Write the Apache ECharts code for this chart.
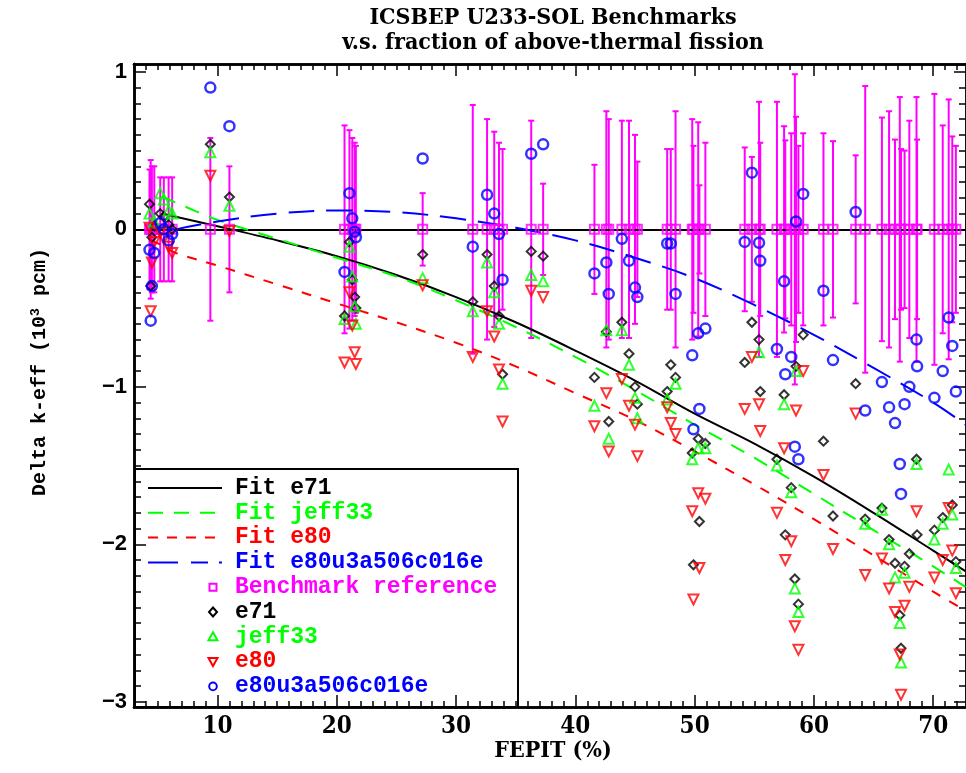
<!DOCTYPE html>
<html><head><meta charset="utf-8">
<script src="https://cdn.jsdelivr.net/npm/echarts@6/dist/echarts.min.js"></script>
<style>html,body{margin:0;padding:0;background:#fff}#c{width:966px;height:773px}</style>
</head><body><div id="c"></div>
<script>
// ---------------- DATA ----------------
// benchmark FEPIT (%) positions
const fepit = [4.3,4.4,4.5,4.7,5.2,5.5,5.9,6.2,9.4,11.0,
  20.65,21.06,21.3,21.5,21.6,27.2,31.4,32.6,33.2,33.6,33.9,36.3,37.3,
  41.6,42.6,42.8,43.9,44.5,45.0,45.2,47.7,48.0,48.4,49.8,49.9,50.3,50.4,50.9,
  54.2,54.8,55.4,55.5,56.9,57.5,57.6,58.1,58.4,58.5,58.7,59.1,60.8,61.6,63.5,
  64.3,65.7,66.3,66.8,67.2,67.3,67.6,68.0,68.6,68.65,70.1,70.8,71.3,71.6,71.9];
// benchmark uncertainty (10^3 pcm), reference Delta = 0
const refUnc = [0.38,0.44,0.40,0.40,0.33,0.33,0.33,0.33,0.58,0.40,
  0.66,0.63,0.58,0.55,0.53,0.23,0.79,0.70,0.62,0.55,0.51,0.69,0.29,
  0.41,0.75,0.70,0.69,0.69,0.60,0.43,0.51,0.51,0.75,0.70,0.53,0.68,0.28,0.55,
  0.52,0.46,0.81,0.55,0.81,0.655,0.565,0.61,0.985,0.715,0.53,0.61,0.61,0.56,0.47,
  0.91,0.71,0.75,0.57,0.84,0.51,0.50,0.69,0.84,0.57,0.86,0.66,0.825,0.59,0.53];
const e71 = [0.16,-0.36,-0.05,0.02,0.10,0.08,0.03,0.00,0.54,0.205,
  -0.55,-0.08,-0.32,-0.43,-0.50,-0.16,-0.46,-0.16,-0.36,-0.55,-0.92,-0.14,-0.17,
  -0.94,-0.65,-1.22,-0.59,-0.79,-1.00,-1.11,-1.03,-0.86,-0.94,-1.42,-2.13,-1.33,-1.855,-1.36,
  -0.845,-0.59,-0.70,-1.03,-1.46,-1.05,-1.94,-1.64,-2.22,-0.87,-2.38,-0.67,-1.345,-1.82,-0.98,
  -1.84,-1.77,-1.97,-2.12,-2.45,-2.66,-2.14,-2.06,-1.46,-1.94,-1.91,-1.83,null,-1.75,-2.11];
const jeff33 = [0.10,null,null,0.05,0.23,0.19,0.12,0.10,0.49,0.15,
  -0.57,-0.11,-0.30,-0.49,-0.60,-0.31,-0.52,-0.21,-0.40,-0.60,-0.98,-0.29,-0.33,
  -1.12,-0.64,-1.33,-0.64,-0.86,-1.07,-1.20,-1.08,null,-0.98,-1.46,null,-1.39,null,-1.39,
  null,null,-0.78,null,-1.50,-1.11,null,-1.67,-2.28,-0.90,-2.43,null,null,null,null,
  -1.87,-1.78,-2.00,-2.21,-2.50,-2.75,-2.18,null,-1.49,null,-1.97,-1.87,-1.525,-1.81,-2.15];
const e80 = [0.01,-0.52,-0.21,-0.08,-0.02,-0.06,-0.11,-0.15,0.34,-0.01,
  -0.845,-0.40,-0.61,-0.78,-0.855,-0.355,-0.81,-0.52,-0.68,-0.89,-1.22,-0.39,-0.43,
  -1.25,-1.04,-1.41,-0.95,-1.12,-1.24,-1.44,-1.13,-1.23,-1.30,-1.79,-2.35,-1.675,-2.15,-1.71,
  -1.14,-0.81,-1.11,-1.28,-1.80,-1.39,-2.10,-1.98,-2.52,-1.15,-2.67,-0.90,-1.56,-2.03,-1.17,
  -2.195,-2.09,-2.28,-2.43,-2.70,-2.955,-2.39,-2.27,-1.79,null,-2.21,-2.10,-1.77,-2.04,-2.31];
const e80u3 = [-0.13,-0.58,-0.36,-0.15,0.04,0.00,-0.07,-0.03,0.90,0.655,
  -0.27,0.23,0.07,-0.015,-0.05,0.45,-0.11,0.22,0.10,-0.03,-0.32,0.48,0.54,
  -0.28,-0.21,-0.41,-0.06,-0.20,-0.37,-0.43,-0.09,-0.09,-0.41,-0.80,-1.27,-0.66,-1.14,-0.63,
  -0.08,0.36,-0.085,-0.20,-0.76,-0.33,-0.92,-0.81,-1.38,0.05,-1.46,0.225,-0.39,-0.83,0.11,
  -1.15,-0.97,-1.13,-1.23,-1.49,-1.68,-1.11,-1.00,-0.70,-0.87,-1.07,-0.90,-0.56,-0.74,-1.03];
// fit curves
const fitX      = [4.4, 5.3, 6.5, 10, 15, 20, 25, 30, 35, 40, 45, 50, 55, 60, 65, 70, 72.7];
const fitE71    = [null, 0.10, 0.08, 0.02, -0.07, -0.17, -0.29, -0.43, -0.59, -0.77, -0.96, -1.17, -1.36, -1.57, -1.80, -2.04, -2.17];
const fitJeff33 = [null, 0.21, 0.17, 0.06, -0.06, -0.18, -0.30, -0.45, -0.62, -0.81, -1.02, -1.24, -1.45, -1.68, -1.91, -2.14, -2.27];
const fitE80    = [-0.07, -0.10, -0.15, -0.23, -0.35, -0.47, -0.59, -0.72, -0.87, -1.04, -1.21, -1.41, -1.62, -1.84, -2.07, -2.30, -2.42];
const fitE80u3  = [null, null, 0.00, 0.05, 0.10, 0.12, 0.11, 0.07, 0.01, -0.07, -0.18, -0.31, -0.48, -0.67, -0.88, -1.10, -1.24];
// axis ticks
const xMajor = [10, 20, 30, 40, 50, 60, 70];
const yMajor = [-3, -2, -1, 0, 1];

// ---------------- CHART ----------------
const X_MIN = 3.0, X_MAX = 72.75, Y_MIN = -3.033, Y_MAX = 1.05;
const xMinor = []; for (let v = 4; v <= 72; v++) if (v % 10) xMinor.push(v);
const yMinor = []; for (let k = -30; k <= 10; k++) if (k % 10) yMinor.push(k / 10);

const C = {black:'#000000', green:'#00ff00', red:'#ff0000', blue:'#0000ff', mag:'#ff00ff'};
const chart = echarts.init(document.getElementById('c'), null, {renderer:'canvas'});

function xAx(pos, ticks, len, showLabel) {
  return {type:'value', min:X_MIN, max:X_MAX, position:pos,
    axisLine:{show:true, onZero:false, lineStyle:{color:'#000', width:2.5}},
    axisTick:{show:true, inside:true, length:len, customValues:ticks, lineStyle:{color:'#000', width:1.5}},
    axisLabel:{show:showLabel, customValues:xMajor, margin:8, color:'#000',
      fontFamily:'"DejaVu Serif Condensed","DejaVu Serif",serif', fontWeight:'bold', fontSize:24},
    splitLine:{show:false}};
}
function yAx(pos, ticks, len, showLabel) {
  return {type:'value', min:Y_MIN, max:Y_MAX, position:pos,
    axisLine:{show:true, onZero:false, lineStyle:{color:'#000', width:2.5}},
    axisTick:{show:true, inside:true, length:len, customValues:ticks, lineStyle:{color:'#000', width:1.5}},
    axisLabel:{show:showLabel, customValues:yMajor, margin:7, color:'#000',
      fontFamily:'"Liberation Sans",Arial,sans-serif', fontWeight:'bold', fontSize:22,
      formatter: v => (v < 0 ? '\u2212' + Math.abs(v) : String(v))},
    splitLine:{show:false}};
}
function pts(arr) { return fepit.map((x, i) => arr[i] == null ? null : [x, arr[i]]).filter(Boolean); }
function fit(arr) { return fitX.map((x, i) => arr[i] == null ? null : [x, arr[i]]).filter(Boolean); }
const hollow = c => ({color:'rgba(0,0,0,0)', borderColor:c, borderWidth:2});

const series = [
  {type:'custom', name:'Benchmark unc', z:1, clip:true,
   data: fepit.map((x, i) => [x, 0, refUnc[i]]),
   renderItem(params, api) {
     const x = api.value(0), c = api.value(1), u = api.value(2);
     const t = api.coord([x, c + u]), b = api.coord([x, c - u]);
     const hw = 3, st = {stroke:C.mag, lineWidth:2};
     return {type:'group', children:[
       {type:'line', shape:{x1:t[0], y1:t[1], x2:b[0], y2:b[1]}, style:st},
       {type:'line', shape:{x1:t[0]-hw, y1:t[1], x2:t[0]+hw, y2:t[1]}, style:st},
       {type:'line', shape:{x1:b[0]-hw, y1:b[1], x2:b[0]+hw, y2:b[1]}, style:st}]};
   },
   markLine:{silent:true, symbol:'none', z:2, label:{show:false},
     lineStyle:{color:'#000', width:2, type:'solid'}, data:[{yAxis:0}]}},
  {type:'line', name:'Fit e71', data:fit(fitE71), smooth:0.35, showSymbol:false, z:3,
   lineStyle:{color:C.black, width:2, type:'solid'}},
  {type:'line', name:'Fit jeff33', data:fit(fitJeff33), smooth:0.35, showSymbol:false, z:3,
   lineStyle:{color:C.green, width:2, type:[15, 11]}},
  {type:'line', name:'Fit e80', data:fit(fitE80), smooth:0.35, showSymbol:false, z:3,
   lineStyle:{color:C.red, width:2, type:[10, 10]}},
  {type:'line', name:'Fit e80u3a506c016e', data:fit(fitE80u3), smooth:0.35, showSymbol:false, z:3,
   lineStyle:{color:C.blue, width:2, type:[26, 12]}},
  {type:'scatter', name:'Benchmark reference', data:fepit.map(x => [x, 0]), symbol:'rect', symbolSize:9, z:4,
   itemStyle:hollow(C.mag)},
  {type:'scatter', name:'e71', data:pts(e71), symbol:'diamond', symbolSize:9, z:5, itemStyle:hollow(C.black)},
  {type:'scatter', name:'jeff33', data:pts(jeff33), symbol:'triangle', symbolSize:10, z:5, itemStyle:hollow(C.green)},
  {type:'scatter', name:'e80', data:pts(e80), symbol:'triangle', symbolRotate:180, symbolSize:10, z:5, itemStyle:hollow(C.red)},
  {type:'scatter', name:'e80u3a506c016e', data:pts(e80u3), symbol:'circle', symbolSize:10, z:6,
   itemStyle:{color:'rgba(0,0,0,0)', borderColor:C.blue, borderWidth:2.5}}
];

// legend (drawn box, as in the reference)
const LX = 135, LY = 469, LW = 383, LH = 238, ROW0 = 488, STEP = 24.8;
const legendItems = [
  {t:'Fit e71', c:C.black, k:'line', d:null},
  {t:'Fit jeff33', c:C.green, k:'line', d:[15, 11]},
  {t:'Fit e80', c:C.red, k:'line', d:[10, 9]},
  {t:'Fit e80u3a506c016e', c:C.blue, k:'line', d:[30, 13, 17, 11, 3, 30]},
  {t:'Benchmark reference', c:C.mag, k:'square'},
  {t:'e71', c:C.black, k:'diamond'},
  {t:'jeff33', c:C.green, k:'up'},
  {t:'e80', c:C.red, k:'down'},
  {t:'e80u3a506c016e', c:C.blue, k:'circle'}
];
const lg = [{type:'rect', shape:{x:LX, y:LY, width:LW, height:LH}, style:{fill:'#fff', stroke:'#000', lineWidth:2}}];
legendItems.forEach((it, i) => {
  const y = ROW0 + i * STEP, mx = 213, s = {fill:'none', stroke:it.c, lineWidth:2};
  if (it.k === 'line') lg.push({type:'line', shape:{x1:148, y1:y, x2:222, y2:y}, style:{stroke:it.c, lineWidth:2, lineDash:it.d}});
  else if (it.k === 'square') lg.push({type:'rect', shape:{x:mx-3.5, y:y-3.5, width:7, height:7}, style:s});
  else if (it.k === 'diamond') lg.push({type:'polygon', shape:{points:[[mx, y-4.5], [mx+4, y], [mx, y+4.5], [mx-4, y]]}, style:s});
  else if (it.k === 'up') lg.push({type:'polygon', shape:{points:[[mx, y-4.5], [mx+4.5, y+3.5], [mx-4.5, y+3.5]]}, style:s});
  else if (it.k === 'down') lg.push({type:'polygon', shape:{points:[[mx, y+4.5], [mx+4.5, y-3.5], [mx-4.5, y-3.5]]}, style:s});
  else lg.push({type:'circle', shape:{cx:mx, cy:y, r:3.8}, style:s});
  lg.push({type:'text', x:235, y:y, style:{text:it.t, fill:it.c, fontSize:23, fontWeight:'bold',
    fontFamily:'"Liberation Mono","DejaVu Sans Mono",monospace', verticalAlign:'middle', align:'left'}});
});

const titleFont = {fontFamily:'"DejaVu Serif Condensed","DejaVu Serif",serif', fontWeight:'bold', fontSize:23, fill:'#000', align:'center', verticalAlign:'middle'};

chart.setOption({
  animation:false,
  backgroundColor:'#fff',
  grid:{left:134, right:0, top:64, bottom:66},
  xAxis:[xAx('bottom', xMajor, 12, true), xAx('bottom', xMinor, 6, false),
         xAx('top', xMajor, 12, false), xAx('top', xMinor, 6, false)],
  yAxis:[yAx('left', yMajor, 12, true), yAx('left', yMinor, 7, false),
         yAx('right', yMajor, 12, false), yAx('right', yMinor, 7, false)],
  series: series,
  graphic:[
    {type:'text', x:553, y:18, style:Object.assign({text:'ICSBEP U233-SOL Benchmarks'}, titleFont)},
    {type:'text', x:553, y:43, style:Object.assign({text:'v.s. fraction of above-thermal fission'}, titleFont)},
    {type:'text', x:553, y:751, style:Object.assign({text:'FEPIT (%)'}, titleFont)},
    {type:'text', x:40, y:372, rotation:Math.PI/2, style:{text:'Delta k-eff (10{s|3} pcm)', fill:'#000',
      fontFamily:'"Liberation Mono","DejaVu Sans Mono",monospace', fontWeight:'bold', fontSize:20,
      align:'center', verticalAlign:'middle',
      rich:{s:{fontSize:13, fontWeight:'bold', fontFamily:'"Liberation Mono",monospace', verticalAlign:'top', padding:[0,0,8,0]}}}},
    {type:'group', z:100, children:lg}
  ]
});
</script></body></html>
